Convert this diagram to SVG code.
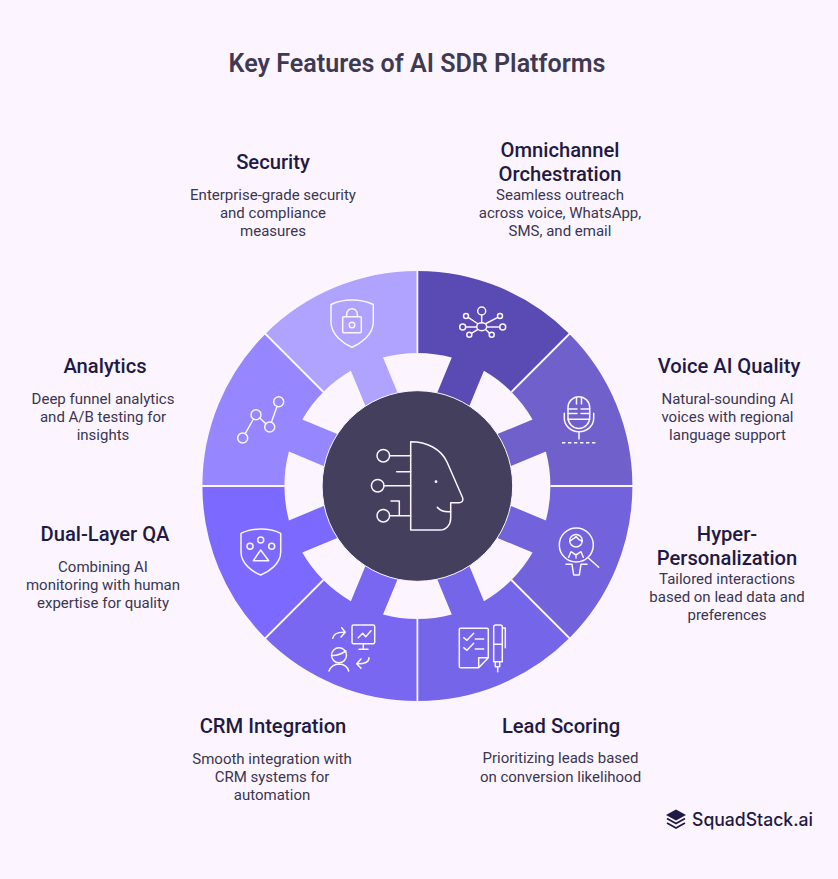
<svg xmlns="http://www.w3.org/2000/svg" width="838" height="879" viewBox="0 0 838 879">
<style>
text{font-family:Roboto,"Liberation Sans",sans-serif;text-anchor:middle}
.t{font-size:25.1px;font-weight:600;fill:#3f3a52}
.h{font-size:20.2px;font-weight:500;fill:#1f1a45}
.b{font-size:15px;font-weight:400;fill:#3a3550}
.i{fill:none;stroke:#fcf5ff;stroke-width:1.5;stroke-linecap:round;stroke-linejoin:round}
.sep{stroke:#fcf5ff;stroke-width:1.8}
</style>
<defs>
<path id="sector" d="M-82.28-198.64A215 215 0 0 1 82.28-198.64L50.9-122.88A133 133 0 0 0 17.4-131.86L17.4-90L-17.4-90L-17.4-131.86A133 133 0 0 0-50.9-122.88Z"/>
</defs>
<rect width="838" height="879" fill="#fcf5ff"/>
<text class="t" x="417" y="72">Key Features of AI SDR Platforms</text>

<g id="omnichannel">
<use href="#sector" transform="translate(417.4 486) rotate(22.5)" fill="#5a4ab3"/>
<g class="i">
<ellipse cx="481.7" cy="326.7" rx="5" ry="4"/><circle cx="481.7" cy="311" r="4"/><circle cx="462.7" cy="327" r="3"/><circle cx="502.7" cy="327" r="3"/><circle cx="466" cy="316" r="2.5"/><circle cx="500" cy="316" r="2.5"/><circle cx="469.3" cy="334.7" r="2.5"/><circle cx="491.7" cy="334.7" r="2.5"/>
<path d="M481.7 315V322.7M465.7 327H476.7M486.7 327H499.7M468.2 317.3L477.5 323.5M497.8 317.3L486 323.5M471.4 333.4L477.8 329.5M489.7 333.4L485.6 329.5"/>
</g>
<text class="h" x="560" y="157">Omnichannel</text><text class="h" x="560" y="181">Orchestration</text>
<text class="b" x="560" y="200">Seamless outreach</text><text class="b" x="560" y="218">across voice, WhatsApp,</text><text class="b" x="560" y="236">SMS, and email</text>
</g>

<g id="voice-ai">
<use href="#sector" transform="translate(417.4 486) rotate(67.5)" fill="#6f60cc"/>
<g class="i">
<rect x="568" y="396.7" width="21.7" height="31.7" rx="10.8"/>
<path d="M568 409H577M581 409H589.7M568 413.5H577M581 413.5H589.7M568 419.3H589.7M576.5 398V404M581.5 398V404M564.3 413.3V418C564.3 426 571 431.7 579 431.7S593.7 426 593.7 418V413.3M579 431.7V439"/>
<path d="M562 442.7H596" stroke-dasharray="3.4 2.6" stroke-linecap="butt"/>
</g>
<text class="h" x="729" y="373">Voice AI Quality</text>
<text class="b" x="727.5" y="404">Natural-sounding AI</text><text class="b" x="727.5" y="422">voices with regional</text><text class="b" x="727.5" y="440">language support</text>
</g>

<g id="hyper-personalization">
<use href="#sector" transform="translate(417.4 486) rotate(112.5)" fill="#7262dc"/>
<g class="i">
<circle cx="576.3" cy="545" r="17"/><circle cx="576" cy="540.7" r="6.3"/>
<path d="M570 541C573 539 575 538 576 536.5C577 538 579 540 582 541M588.7 558.3L598.7 567.3M568.7 557.3L571 551.7L576 555L581 551.7L583.3 557.3M576 555V558M566 564.3H572L573.7 575H579.3L581 564.3H587"/>
</g>
<text class="h" x="727" y="541">Hyper-</text><text class="h" x="727" y="565">Personalization</text>
<text class="b" x="727" y="584">Tailored interactions</text><text class="b" x="727" y="602">based on lead data and</text><text class="b" x="727" y="620">preferences</text>
</g>

<g id="lead-scoring">
<use href="#sector" transform="translate(417.4 486) rotate(157.5)" fill="#7565e8"/>
<g class="i">
<path d="M460.5 628.3H487A1.3 1.3 0 0 1 488.3 629.6V657.7L478.7 667.7H460.6A1.3 1.3 0 0 1 459.3 666.4V629.6A1.3 1.3 0 0 1 460.5 628.3ZM488.3 657.7H478.7V667.7"/>
<path d="M463.7 637.7L467 640.3L473.7 633.3M475.3 639H483.7M463.7 647.7L467 650.3L473.7 643.3M475.3 649H483.7"/>
<path d="M493.7 661.7V627A2 2 0 0 1 495.7 625H500.3A2 2 0 0 1 502.3 627V661.7ZM493.7 644.3H502.3M502.3 628H505.3V647.7M495.3 661.7V666.7H499.7V661.7M497.7 666.7V671.7"/>
</g>
<text class="h" x="561" y="733">Lead Scoring</text>
<text class="b" x="560.5" y="763">Prioritizing leads based</text><text class="b" x="560.5" y="782">on conversion likelihood</text>
</g>

<g id="crm-integration">
<use href="#sector" transform="translate(417.4 486) rotate(202.5)" fill="#7967f2"/>
<g class="i">
<rect x="352" y="625" width="22.7" height="18.7" rx="1.5"/>
<path d="M363.3 643.7V649.3M359 649.3H368M358.3 637.7L362.7 633.3L365.7 636.7L371 630.7"/>
<path d="M332.7 638.3Q334 631.7 345 632.3M341.7 627.7L345.3 632.3L341 637M369 657.7Q369 664.3 356.7 663.7M361 659L356.7 663.7L361 668.3"/>
<circle cx="339" cy="655.3" r="7.5"/>
<path d="M332 655.5Q338 656 346 651M329 671Q331.7 664.3 339 664Q346.7 664.3 348.7 671"/>
</g>
<text class="h" x="273" y="733">CRM Integration</text>
<text class="b" x="272" y="764">Smooth integration with</text><text class="b" x="272" y="782">CRM systems for</text><text class="b" x="272" y="800">automation</text>
</g>

<g id="dual-layer-qa">
<use href="#sector" transform="translate(417.4 486) rotate(247.5)" fill="#7c69ff"/>
<g class="i">
<path d="M260.7 529Q249 529 241 533.3V552C241 564 253 572 260.7 575C268.4 572 280.7 564 280.7 552V533.3Q272 529 260.7 529Z"/>
<circle cx="260.7" cy="540" r="3"/><circle cx="250" cy="546.3" r="3"/><circle cx="271.7" cy="546.3" r="3"/>
<path d="M260.7 550L268.7 560.7H253.3Z"/>
</g>
<text class="h" x="105" y="541">Dual-Layer QA</text>
<text class="b" x="103" y="572">Combining AI</text><text class="b" x="103" y="590">monitoring with human</text><text class="b" x="103" y="608">expertise for quality</text>
</g>

<g id="analytics">
<use href="#sector" transform="translate(417.4 486) rotate(292.5)" fill="#9686ff"/>
<g class="i">
<circle cx="242.7" cy="438" r="5"/><circle cx="256" cy="414.7" r="5"/><circle cx="269.7" cy="427" r="5"/><circle cx="278.7" cy="401.7" r="5"/>
<path d="M245.2 433.7L253.5 419M259.8 418L265.9 423.7M271.4 422.3L277 406.4"/>
</g>
<text class="h" x="105" y="373">Analytics</text>
<text class="b" x="103" y="404">Deep funnel analytics</text><text class="b" x="103" y="422">and A/B testing for</text><text class="b" x="103" y="440">insights</text>
</g>

<g id="security">
<use href="#sector" transform="translate(417.4 486) rotate(337.5)" fill="#b0a3ff"/>
<g class="i">
<path d="M352 300Q340 300 331 304.5V322C331 335 344 344 352 347.3C360 344 373.3 335 373.3 322V304.5Q364 300 352 300Z"/>
<rect x="342.7" y="316.7" width="18.6" height="16" rx="1"/>
<path d="M346.7 316.7V314A5.3 5.3 0 0 1 357.3 314V316.7"/>
<circle cx="352" cy="325" r="2.8"/>
</g>
<text class="h" x="273" y="169">Security</text>
<text class="b" x="273" y="200">Enterprise-grade security</text><text class="b" x="273" y="218">and compliance</text><text class="b" x="273" y="236">measures</text>
</g>

<g id="separators">
<path class="sep" d="M417.4 270V353M417.4 619V702M201.5 486H284.5M550.5 486H633.5M265 333.5L323.4 392M569.8 333.5L511.4 392M265 638.5L323.4 580M569.8 638.5L511.4 580"/>
</g>

<g id="center">
<circle cx="417.4" cy="486" r="95.3" fill="#443f5c" stroke="#fcf5ff" stroke-width="1"/>
<g class="i">
<path d="M410.7 441.7V530H440C446 530 450.7 525 450.7 518.3V502.7H459.3C462.5 502.7 463.6 500 462.3 497L447 462C441 449 427 441.7 410.7 441.7Z"/>
<path d="M437.3 507.3Q441.5 512.5 450.7 511.7"/>
<circle cx="383.3" cy="455.7" r="6.3"/><circle cx="377.7" cy="485.7" r="6.3"/><circle cx="383.3" cy="515.7" r="6.3"/>
<path d="M389.6 455.7H410.7M396.7 471.7H410.7M384 485.7H410.7M389.6 515.7H410.7M391 501H399.3V515.7"/>
</g>
<circle cx="436" cy="481.7" r="1.4" fill="#fcf5ff"/>
</g>

<g id="logo">
<path d="M676 809.5L686 815L676 820.5L666 815Z" fill="#1f1a45"/>
<path d="M667 818.5L676 823.5L685 818.5M667 823L676 828L685 823" fill="none" stroke="#1f1a45" stroke-width="1.8"/>
<text x="752.5" y="826" style="font-family:Inter,sans-serif;font-size:18px;font-weight:500;fill:#1f1a45" textLength="121" lengthAdjust="spacingAndGlyphs">SquadStack.ai</text>
</g>
</svg>
